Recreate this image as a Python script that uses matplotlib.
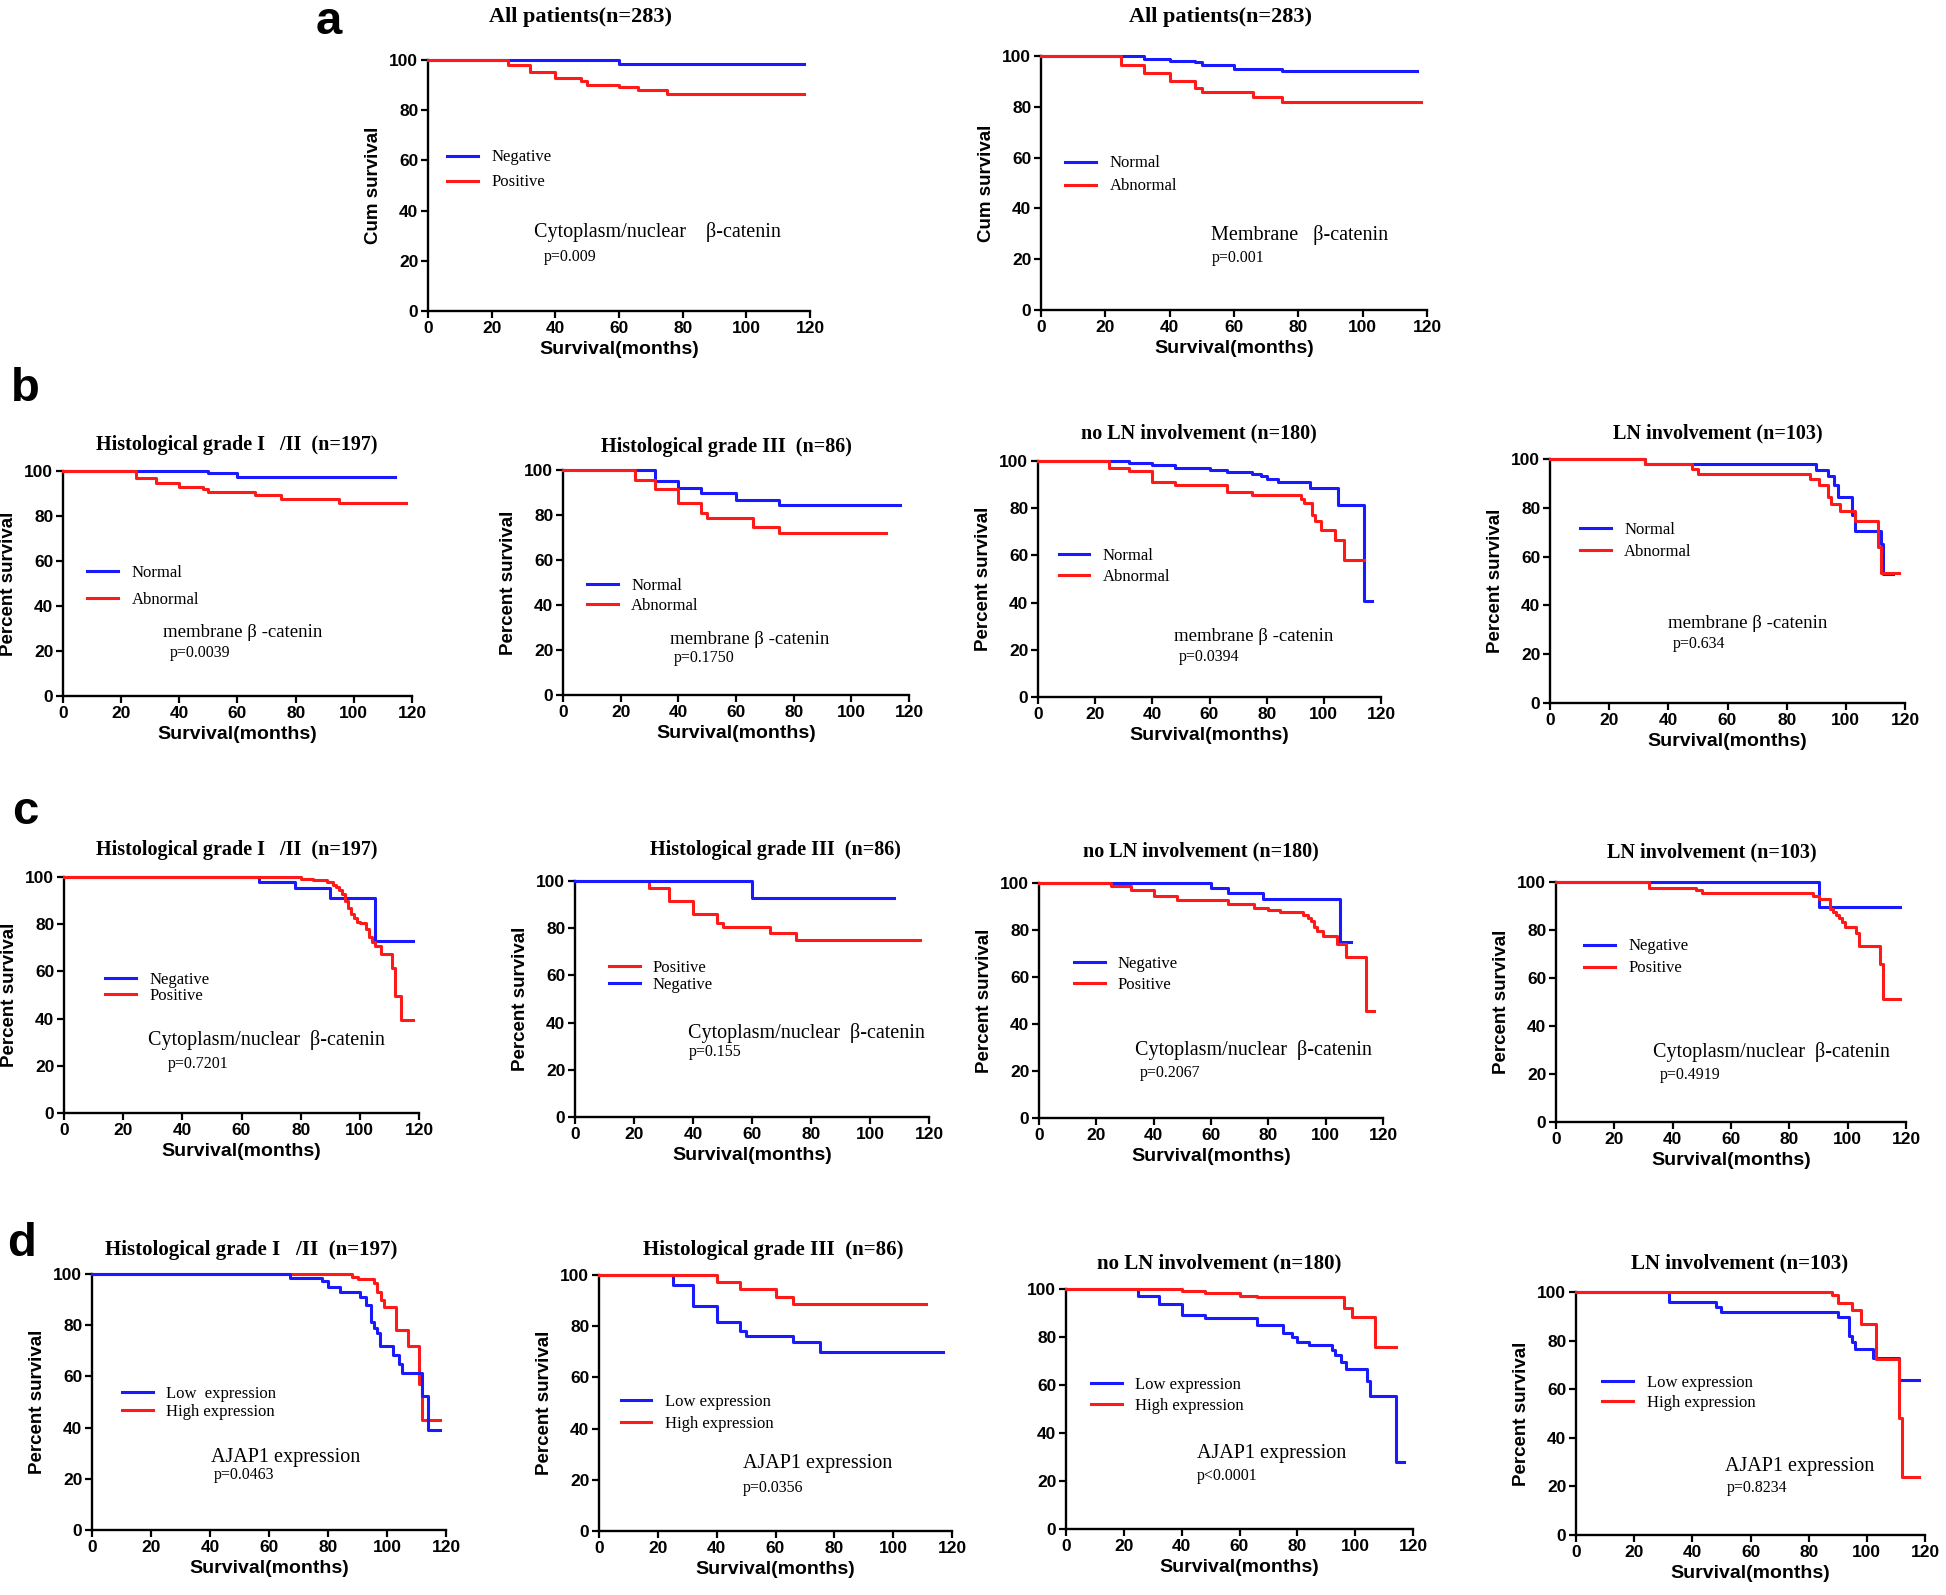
import matplotlib
matplotlib.use("Agg")
import matplotlib.pyplot as plt

plt.rcParams["font.family"] = ["Liberation Sans", "DejaVu Sans"]

W, H = 1946, 1595
SERIF = ["Liberation Serif", "DejaVu Serif"]
BLUE = "#1a1aff"
RED = "#ff1a1a"

# ---- a: all patients (n=283) ----
a1_neg_t = [0, 60, 118]
a1_neg_s = [100, 98.3, 98.3]
a1_pos_t = [0, 25, 32, 40, 48, 50, 60, 66, 75, 118]
a1_pos_s = [100, 98, 95.1, 93, 91.7, 89.9, 89.2, 87.9, 86.4, 86.4]

a2_nor_t = [0, 32, 40, 48, 50, 60, 75, 117]
a2_nor_s = [100, 98.7, 98.2, 97.5, 96.6, 94.9, 94.2, 94.2]
a2_abn_t = [0, 25, 32, 40, 48, 50, 66, 75, 118]
a2_abn_s = [100, 96.6, 93.3, 90.1, 87.5, 86, 83.7, 81.9, 81.9]

# ---- b: membrane beta-catenin ----
b1_nor_t = [0, 50, 60, 114]
b1_nor_s = [100, 99.1, 97.4, 97.4]
b1_abn_t = [0, 25, 32, 40, 48, 50, 66, 75, 95, 118]
b1_abn_s = [100, 96.9, 94.5, 93.1, 92.1, 90.5, 89.2, 87.7, 85.9, 85.9]

b2_nor_t = [0, 32, 40, 48, 60, 75, 117]
b2_nor_s = [100, 95, 92, 89.6, 86.8, 84.4, 84.4]
b2_abn_t = [0, 25, 32, 40, 48, 50, 66, 75, 112]
b2_abn_s = [100, 95.5, 91.4, 85.2, 81, 78.8, 74.5, 72.1, 72.1]

b3_nor_t = [0, 32, 40, 48, 60, 66, 75, 78, 80, 84, 95, 105, 114, 117]
b3_nor_s = [100, 99.3, 98.3, 97.2, 96.2, 95.5, 94.5, 93.5, 92.5, 91.2, 88.7, 81.2, 40.6, 40.6]
b3_abn_t = [0, 25, 32, 40, 48, 66, 75, 92, 93, 96, 97, 99, 104, 107, 114]
b3_abn_s = [100, 97.2, 95.8, 91.3, 89.7, 86.9, 85.5, 84, 82, 77.2, 74.6, 70.9, 66.5, 58.2, 58.2]

b4_nor_t = [0, 32, 90, 94, 96, 97.5, 102, 103, 112, 112.5, 116]
b4_nor_s = [100, 98, 95.6, 92.9, 89.5, 84.3, 77, 70.3, 65, 52.9, 52.9]
b4_abn_t = [0, 32, 48, 50, 88, 91, 94, 95, 98, 103, 111, 112, 118]
b4_abn_s = [100, 98, 96, 94, 92, 89.5, 84.5, 81.6, 78.6, 74.5, 64, 53.2, 53.2]

# ---- c: cytoplasm/nuclear beta-catenin ----
c1_neg_t = [0, 66, 78, 90, 105, 118]
c1_neg_s = [100, 97.7, 95.5, 91.3, 72.9, 72.9]
c1_pos_t = [0, 80, 84, 89, 91, 92, 93, 94, 95, 96, 97, 98, 99, 100, 102, 103, 104,
            105, 107, 111, 112, 114, 118]
c1_pos_s = [100, 99.3, 98.6, 97.8, 96.8, 95.8, 94.5, 93, 90, 87, 84.5, 82.8, 81, 80.4,
            78, 74.6, 72.4, 70.7, 67.5, 61.4, 49.4, 39.3, 39.3]

c2_pos_t = [0, 25, 32, 40, 48, 50, 66, 75, 117]
c2_pos_s = [100, 97.2, 91.6, 86, 82.1, 80.6, 77.9, 75, 75]
c2_neg_t = [0, 60, 108]
c2_neg_s = [100, 92.8, 92.8]

c3_neg_t = [0, 60, 66, 78, 105, 109]
c3_neg_s = [100, 97.7, 95.6, 93.2, 75, 75]
c3_pos_t = [0, 25, 32, 40, 48, 66, 75, 80, 84, 92, 94, 95, 96, 97, 99, 104, 107, 114, 117]
c3_pos_s = [100, 98.6, 97.2, 94.3, 92.6, 91, 89.5, 88.7, 87.6, 86.5, 85.2, 83.7, 81.4,
            79.5, 77.5, 74, 68.5, 45.6, 45.6]

c4_neg_t = [0, 90, 118]
c4_neg_s = [100, 89.7, 89.7]
c4_pos_t = [0, 32, 48, 50, 88, 90, 94, 95, 96, 97, 98, 99, 103, 104, 111, 112, 118]
c4_pos_s = [100, 97.6, 96.6, 95.3, 94, 93.1, 88.6, 87.4, 86.2, 84.8, 83.4, 81.4, 78.6,
            73.3, 65.8, 51.2, 51.2]

# ---- d: AJAP1 expression ----
d1_low_t = [0, 67, 78, 80, 84, 91, 93, 94.5, 95.5, 96.5, 97.5, 102, 104, 105, 112, 114, 118]
d1_low_s = [100, 98.5, 97.3, 95, 93, 91.2, 87.8, 81.4, 78.8, 76.9, 71.7, 68.4, 65, 61.2,
            52.5, 39, 39]
d1_high_t = [0, 88, 90, 95.5, 96.5, 98, 99, 103, 107, 111, 112, 118]
d1_high_s = [100, 98.9, 98, 96.5, 93, 90, 87.2, 78.3, 72, 57, 43, 43]

d2_low_t = [0, 25, 32, 40, 48, 50, 66, 75, 117]
d2_low_s = [100, 96.1, 87.9, 81.8, 78.3, 76.1, 74, 69.9, 69.9]
d2_high_t = [0, 40, 48, 60, 66, 111]
d2_high_s = [100, 97.3, 94.5, 91.4, 88.8, 88.8]

d3_low_t = [0, 25, 32, 40, 48, 66, 75, 78, 80, 84, 92, 93, 95, 97, 104, 105, 114, 117]
d3_low_s = [100, 96.9, 93.9, 89.2, 87.8, 84.8, 81.8, 80, 78, 76.6, 74.5, 72.3, 69.5, 66.8,
            61.5, 55.3, 27.8, 27.8]
d3_high_t = [0, 40, 48, 60, 66, 96, 99, 107, 114]
d3_high_s = [100, 99.3, 98.3, 97.2, 96.6, 92, 88.5, 75.8, 75.8]

d4_low_t = [0, 32, 48, 50, 90, 94, 95, 96, 102, 111, 118]
d4_low_s = [100, 95.9, 93.8, 91.9, 89.6, 82, 79.5, 76.4, 73, 63.9, 63.9]
d4_high_t = [0, 88, 90, 95, 98, 103, 111, 112, 118]
d4_high_s = [100, 98.6, 95.5, 92.5, 87, 72.3, 48, 24, 24]

T_HG12 = "Histological grade I   /II  (n=197)"
T_HG3 = "Histological grade III  (n=86)"
T_NOLN = "no LN involvement (n=180)"
T_LN = "LN involvement (n=103)"
N_CYTO = "Cytoplasm/nuclear  \u03b2-catenin"
N_MEMB = "membrane \u03b2 -catenin"
N_AJAP = "AJAP1 expression"

LEG_SIZE = 12


def km_panel(fig, box, title, ylabel, series, legend_at, note, note_at, pval, p_at,
             title_x=0.5, title_gap=26, title_size=14.5, note_size=14.5, leg_gap=26):
    x0, x1, ytop, ybot = box
    ax = fig.add_axes([x0 / W, 1 - ybot / H, (x1 - x0) / W, (ybot - ytop) / H])
    lines, labels = [], []
    for label, t, s, color, z in series:
        ln, = ax.step(t, s, where="post", color=color, lw=2.2, zorder=z, clip_on=False)
        lines.append(ln)
        labels.append(label)
    ax.set_xlim(0, 120)
    ax.set_ylim(0, 100)
    ax.set_xticks(range(0, 121, 20))
    ax.set_yticks(range(0, 101, 20))
    for sp in ("top", "right"):
        ax.spines[sp].set_visible(False)
    for sp in ("left", "bottom"):
        ax.spines[sp].set_linewidth(1.7)
    ax.tick_params(direction="out", length=5, width=1.6, labelsize=12.5, pad=2)
    for lab in ax.get_xticklabels() + ax.get_yticklabels():
        lab.set_fontweight("bold")
    ax.set_xlabel("Survival(months)", fontsize=14, fontweight="bold", labelpad=4)
    if ylabel:
        ax.set_ylabel(ylabel, fontsize=13.5, fontweight="bold", labelpad=5)

    fs_px = LEG_SIZE * 100 / 72
    ax.legend(lines, labels, loc="center left",
              bbox_to_anchor=((legend_at[0] - 2.3) / 120, legend_at[1] / 100),
              frameon=False, borderpad=0, handlelength=1.85, handletextpad=0.8,
              labelspacing=max(0.0, leg_gap / fs_px - 1.2),
              prop={"family": SERIF, "size": LEG_SIZE})
    ax.text(note_at[0], note_at[1], note, fontsize=note_size, family=SERIF,
            ha="left", va="center")
    ax.text(p_at[0], p_at[1], pval, fontsize=11.5, family=SERIF, ha="left", va="center")
    ax.text(title_x, 1 + title_gap / (ybot - ytop), title, transform=ax.transAxes,
            ha="center", va="center", fontsize=title_size, fontweight="bold", family=SERIF)
    return ax


fig = plt.figure(figsize=(W / 100, H / 100), dpi=100)

# row a
km_panel(fig, (428, 810, 60, 311), "All patients(n=283)", "Cum survival",
         [("Negative", a1_neg_t, a1_neg_s, BLUE, 2), ("Positive", a1_pos_t, a1_pos_s, RED, 3)],
         (5.8, 56.2), "Cytoplasm/nuclear    \u03b2-catenin", (33.2, 31.6), "p=0.009", (36.4, 21.7),
         title_x=0.40, title_gap=43, title_size=16, leg_gap=29)
km_panel(fig, (1041, 1427, 56, 310), "All patients(n=283)", "Cum survival",
         [("Normal", a2_nor_t, a2_nor_s, BLUE, 2), ("Abnormal", a2_abn_t, a2_abn_s, RED, 3)],
         (7.3, 53.2), "Membrane   \u03b2-catenin", (52.7, 29.4), "p=0.001", (53, 20.3),
         title_x=0.464, title_gap=39, title_size=16, leg_gap=27)

# row b
km_panel(fig, (63, 412, 471, 696), T_HG12, "Percent survival",
         [("Normal", b1_nor_t, b1_nor_s, BLUE, 2), ("Abnormal", b1_abn_t, b1_abn_s, RED, 3)],
         (7.8, 48.8), N_MEMB, (34.4, 28.3), "p=0.0039", (36.7, 19.3),
         title_x=0.498, title_gap=26, note_size=13.5, leg_gap=31)
km_panel(fig, (563, 909, 470, 695), T_HG3, "Percent survival",
         [("Normal", b2_nor_t, b2_nor_s, BLUE, 2), ("Abnormal", b2_abn_t, b2_abn_s, RED, 3)],
         (7.7, 44), N_MEMB, (37.1, 24.6), "p=0.1750", (38.5, 16.4),
         title_x=0.471, title_gap=23, note_size=13.5, leg_gap=24)
km_panel(fig, (1038, 1381, 461, 697), T_NOLN, "Percent survival",
         [("Normal", b3_nor_t, b3_nor_s, BLUE, 2), ("Abnormal", b3_abn_t, b3_abn_s, RED, 3)],
         (6.6, 55.3), N_MEMB, (47.5, 25.6), "p=0.0394", (49.2, 16.8),
         title_x=0.469, title_gap=28, note_size=13.5, leg_gap=25)
km_panel(fig, (1550, 1905, 459, 703), T_LN, "Percent survival",
         [("Normal", b4_nor_t, b4_nor_s, BLUE, 2), ("Abnormal", b4_abn_t, b4_abn_s, RED, 3)],
         (9.6, 66.4), N_MEMB, (40, 32.4), "p=0.634", (41.5, 24.2),
         title_x=0.473, title_gap=26, note_size=13.5, leg_gap=26)

# row c
km_panel(fig, (64, 419, 877, 1113), T_HG12, "Percent survival",
         [("Negative", c1_neg_t, c1_neg_s, BLUE, 2), ("Positive", c1_pos_t, c1_pos_s, RED, 3)],
         (13.5, 52.9), N_CYTO, (28.4, 30.8), "p=0.7201", (35.2, 20.9),
         title_x=0.488, title_gap=27, leg_gap=19)
km_panel(fig, (575, 929, 881, 1117), T_HG3, "Percent survival",
         [("Positive", c2_pos_t, c2_pos_s, RED, 2), ("Negative", c2_neg_t, c2_neg_s, BLUE, 3)],
         (10.9, 59.5), N_CYTO, (38.4, 35.7), "p=0.155", (38.7, 27.7),
         title_x=0.565, title_gap=31, leg_gap=21)
km_panel(fig, (1039, 1383, 883, 1118), T_NOLN, "Percent survival",
         [("Negative", c3_neg_t, c3_neg_s, BLUE, 2), ("Positive", c3_pos_t, c3_pos_s, RED, 3)],
         (11.5, 61), N_CYTO, (33.4, 29.1), "p=0.2067", (35, 19.1),
         title_x=0.47, title_gap=32, leg_gap=25)
km_panel(fig, (1556, 1906, 882, 1122), T_LN, "Percent survival",
         [("Negative", c4_neg_t, c4_neg_s, BLUE, 2), ("Positive", c4_pos_t, c4_pos_s, RED, 3)],
         (9, 68.6), N_CYTO, (33.1, 29.1), "p=0.4919", (35.5, 19.4),
         title_x=0.446, title_gap=30, leg_gap=26)

# row d
km_panel(fig, (92, 446, 1274, 1530), T_HG12, "Percent survival",
         [("Low  expression", d1_low_t, d1_low_s, BLUE, 3), ("High expression", d1_high_t, d1_high_s, RED, 2)],
         (9.6, 49.5), N_AJAP, (40.3, 28.4), "p=0.0463", (41.4, 21.3),
         title_x=0.449, title_gap=24, title_size=15, leg_gap=22)
km_panel(fig, (599, 952, 1275, 1531), T_HG3, "Percent survival",
         [("Low expression", d2_low_t, d2_low_s, BLUE, 2), ("High expression", d2_high_t, d2_high_s, RED, 3)],
         (6.8, 46), N_AJAP, (48.8, 26.2), "p=0.0356", (48.8, 16.9),
         title_x=0.493, title_gap=25, title_size=15, leg_gap=26)
km_panel(fig, (1066, 1413, 1289, 1529), T_NOLN, None,
         [("Low expression", d3_low_t, d3_low_s, BLUE, 2), ("High expression", d3_high_t, d3_high_s, RED, 3)],
         (8.1, 55.5), N_AJAP, (45.2, 31.5), "p<0.0001", (45.2, 22),
         title_x=0.441, title_gap=26, title_size=15, leg_gap=25)
km_panel(fig, (1576, 1925, 1292, 1535), T_LN, "Percent survival",
         [("Low expression", d4_low_t, d4_low_s, BLUE, 2), ("High expression", d4_high_t, d4_high_s, RED, 3)],
         (8.5, 58.6), N_AJAP, (51.4, 28), "p=0.8234", (52, 19.3),
         title_x=0.469, title_gap=29, title_size=15, leg_gap=24)

# panel letters
for letter, (px, py) in zip("abcd", [(329, 34), (25, 401), (25, 824), (22, 1256)]):
    fig.text(px / W, 1 - py / H, letter, fontsize=34, fontweight="bold",
             ha="center", va="baseline")

fig.savefig("out.png", dpi=100)
